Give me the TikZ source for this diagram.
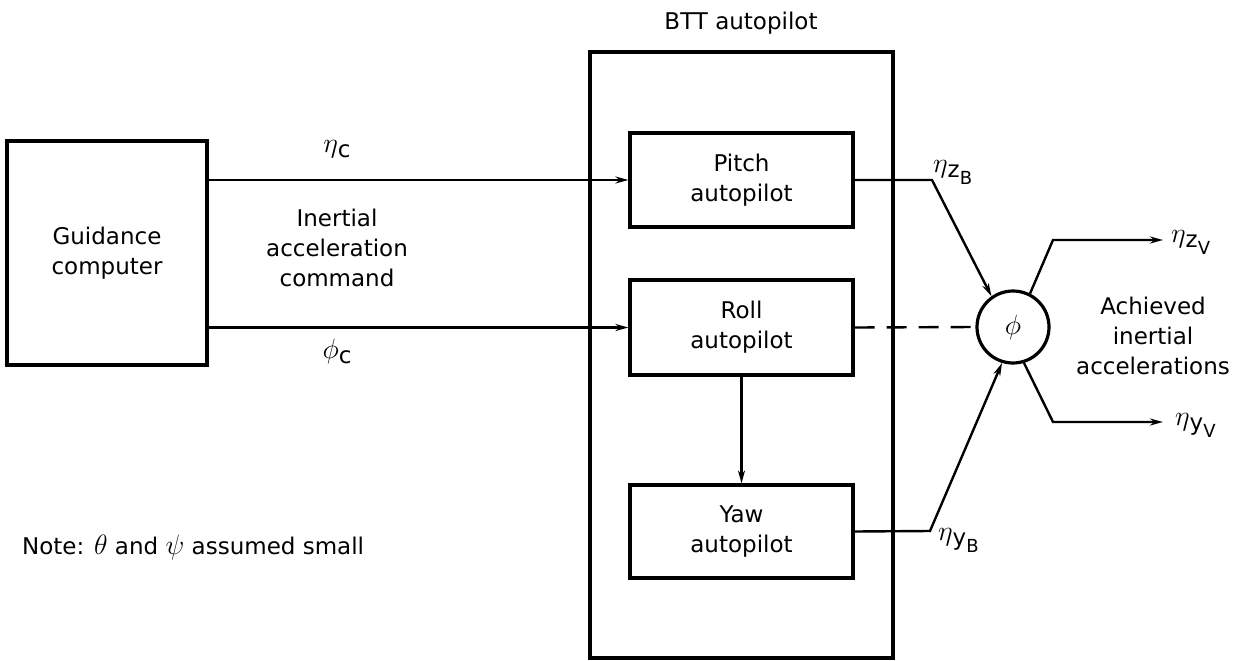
\RequirePackage{fix-cm}
\documentclass[tikz,border=0pt]{standalone}
\usepackage{fontspec}
\setmainfont{DejaVu Sans}
\usetikzlibrary{arrows.meta}
\newcommand{\gk}[1]{{\fontsize{28}{28}\selectfont$#1$}}
\newcommand{\sig}[3]{\gk{#1}\raisebox{-0.22em}{#2\raisebox{-0.3em}{\fontsize{18}{18}\selectfont #3}}}
\begin{document}
\begin{tikzpicture}[x=1pt,y=-1pt,
  every node/.style={font=\fontsize{23}{30}\selectfont},
  blockbox/.style={draw,line width=3.2pt,align=center,inner sep=0pt},
  conn/.style={line width=2.4pt},
  arr/.style={conn,-{Stealth[length=13pt,width=7pt]}},
  lbl/.style={inner sep=0pt}]
\useasboundingbox (0,0) rectangle (1245,661);
% boxes
\node[blockbox,minimum width=303pt,minimum height=606pt] (btt) at (741.5,355) {};
\node[blockbox,minimum width=200pt,minimum height=224pt] (guid) at (107,253) {Guidance\\computer};
\node[blockbox,minimum width=223pt,minimum height=94pt] (pitch) at (741.5,180) {Pitch\\autopilot};
\node[blockbox,minimum width=223pt,minimum height=95pt] (roll) at (741.5,327.5) {Roll\\autopilot};
\node[blockbox,minimum width=223pt,minimum height=93pt] (yaw) at (741.5,531.5) {Yaw\\autopilot};
\node[draw,circle,line width=3.2pt,minimum size=72pt,inner sep=0pt] (sum) at (1013,327) {\gk{\phi}};
% coordinates
\coordinate (zb) at (932,180);
\coordinate (yb) at (930,531);
\coordinate (zv1) at (1053,240);
\coordinate (zv2) at (1163,240);
\coordinate (yv1) at (1053,422);
\coordinate (yv2) at (1163,422);
% connectors
\draw[arr] (guid.east |- pitch.west) -- (pitch.west);
\draw[arr] (guid.east |- roll.west) -- (roll.west);
\draw[arr] (roll.south) -- (yaw.north);
\draw[conn,dash pattern=on 20pt off 12pt] (roll.east) -- (sum.west);
\draw[arr] (pitch.east) -- (zb) -- (sum.125);
\draw[arr] (yaw.east) -- (yb) -- (sum.-107);
\draw[arr] (sum.63) -- (zv1) -- (zv2);
\draw[arr] (sum.-73) -- (yv1) -- (yv2);
% labels
\node[lbl] (ltitle) at (741,23) {BTT autopilot};
\node[lbl] (leta) at (337,152) {\sig{\eta}{c}{}};
\node[lbl,align=center] (lcmd) at (337,248) {Inertial\\acceleration\\command};
\node[lbl] (lphi) at (337,355) {\sig{\phi}{c}{}};
\node[lbl,anchor=west] (lzb) at (933,172) {\sig{\eta}{z}{B}};
\node[lbl,anchor=west] (lyb) at (938,540) {\sig{\eta}{y}{B}};
\node[lbl,anchor=west] (lzv) at (1171,242) {\sig{\eta}{z}{V}};
\node[lbl,anchor=west] (lyv) at (1175,425) {\sig{\eta}{y}{V}};
\node[lbl,align=center] (lach) at (1153,336) {Achieved\\inertial\\accelerations};
\node[lbl,anchor=west] (note) at (22,547) {Note: \gk{\theta} and \gk{\psi} assumed small};
\end{tikzpicture}
\end{document}
